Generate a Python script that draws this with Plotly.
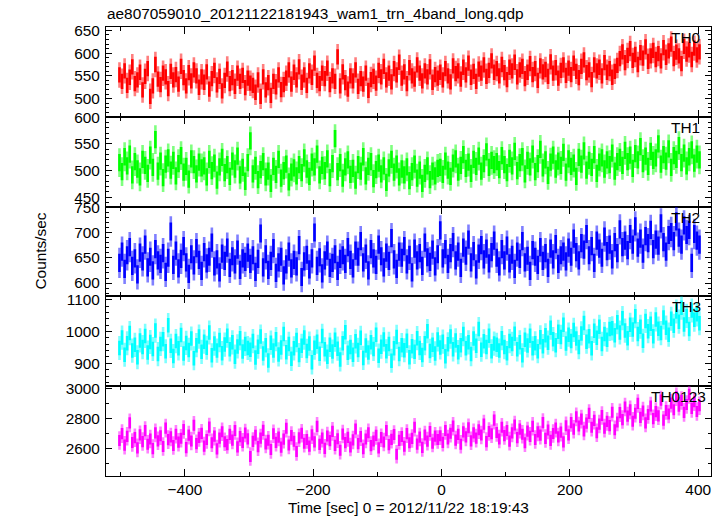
import numpy as np
import plotly.graph_objects as go

TITLE = "ae807059010_20121122181943_wam1_trn_4band_long.qdp"
X_TITLE = "Time [sec] 0 = 2012/11/22 18:19:43"
Y_TITLE = "Counts/sec"

# time binning of the light curve
T0 = -502
DT = 4

band_names = ["TH0", "TH1", "TH2", "TH3", "TH0123"]
band_colors = ["#ff0000", "#00ff00", "#0000ff", "#00ffff", "#ff00ff"]
band_err_colors = ["rgba(255,0,0,0.5)", "rgba(0,255,0,0.5)", "rgba(0,0,255,0.5)",
                   "rgba(0,255,255,0.5)", "rgba(255,0,255,0.5)"]
band_err = [28, 27, 30, 38, 62]

th0 = [552, 538, 561, 529, 547, 570, 533, 541, 558, 519, 549, 566, 505, 528, 575, 543, 531, 556, 548, 522,
       560, 541, 553, 532, 571, 546, 528, 557, 539, 563, 550, 525, 548,
       536, 559, 521, 544, 562, 530, 549, 517, 540, 565, 533, 546, 527, 556, 538, 551, 524, 545, 534,
       529, 514, 541, 505, 548, 519, 535, 507, 538, 526, 552, 520, 531,
       545, 563, 532, 558, 541, 570, 536, 552, 529, 561, 547, 578, 540, 533, 556, 544, 567, 531, 550, 538,
       592, 528, 559, 535, 521, 550, 539, 563, 527, 544, 532, 556, 518, 542, 549, 534,
       562, 548, 571, 541, 556, 537, 566, 552, 580, 545, 559, 533, 568, 550, 543, 574, 556, 539, 561, 548,
       570, 536, 553, 545,
       558, 541, 566, 550, 537, 572, 555, 561, 543, 569, 552, 578, 547, 560, 538, 565, 556, 574, 549, 562,
       583, 558,
       566, 550, 575, 557, 542, 569, 561, 580, 548, 563, 571, 544, 558, 577, 553, 566, 540, 572, 559, 564,
       549, 581, 556, 568, 545, 562, 574, 551,
       567, 553, 578, 560, 546, 571, 585, 557, 563, 542, 574, 561, 569, 550, 579, 558, 566, 547, 560, 573,
       588, 603, 579, 595, 610, 584, 597, 575, 601, 589, 614, 582, 594, 606, 586,
       599, 583, 612, 591, 605, 620, 588, 602, 594, 577, 615, 598, 607, 586, 611, 596, 603]

th1 = [515, 498, 526, 509, 531, 492, 517, 503, 488, 521, 510, 495, 529, 506, 558, 499, 518, 487, 512, 524,
       501, 519, 490, 513, 528, 497, 508, 484, 522, 511, 494, 516, 505,
       509, 488, 521, 500, 514, 482, 507, 525, 496, 511, 489, 518, 503, 527, 492, 506, 480, 515, 556,
       494, 510, 483, 502, 517, 488, 499, 476, 508, 493, 521, 486, 500, 512, 479, 497, 505, 490,
       511, 496, 524, 503, 489, 516, 507, 531, 492, 510, 500, 522, 487, 513, 560,
       498, 515, 486, 507, 520, 493, 504, 482, 511, 499, 526, 490, 508, 517, 485, 502, 514, 494, 509, 478,
       505, 521, 497, 512, 488, 503,
       492, 507, 481, 498, 512, 486, 501, 476, 495, 509, 483, 499, 490, 504,
       506, 493, 518, 501, 489, 514, 522, 497, 510, 530, 504, 516, 495, 521, 508, 527, 499, 513, 535, 506,
       519, 511,
       517, 502, 528, 511, 496, 523, 509, 536, 500, 515, 526, 494, 519, 507, 531, 498, 513, 540, 505, 520,
       491, 516, 529, 503, 518, 510, 534, 497, 522, 508, 514, 489, 525, 512, 537, 501, 519, 506, 530, 495,
       516, 524, 503, 520, 511, 533, 499, 517,
       525, 510, 538, 517, 529, 504, 532, 520, 545, 513, 527, 508, 536, 519, 524, 550, 512, 530, 518, 541,
       506, 528, 521, 547, 515, 533, 509, 526, 539, 514, 531, 520]

th2 = [640, 662, 628, 655, 671, 634, 649, 617, 660, 643, 676, 631, 652, 625, 667, 645, 638, 659, 622, 650,
       702, 636, 664, 629, 648, 673, 641, 618, 657, 635, 669, 646, 624, 661, 639, 652, 680, 633, 647, 621,
       658, 644, 670, 630, 653, 637, 666, 626, 649, 642, 660,
       638, 655, 622, 648, 698, 631, 657, 626, 644, 669, 620, 641, 652, 615, 637, 662, 629, 646, 633, 675,
       612, 643, 656, 627, 649, 700, 634, 651, 619, 645, 664, 630, 640, 657, 624, 648,
       655, 638, 671, 646, 629, 664, 652, 683, 641, 658, 625, 667, 649, 636, 676, 653, 631, 660, 644, 689,
       647, 628, 662, 650, 673, 637, 656, 621, 668, 645, 659, 634, 680, 651, 642, 666, 633, 657,
       704, 649, 667, 638, 659, 681, 645, 662, 630, 670, 654, 686, 641, 663, 627, 658, 675, 647, 668, 639,
       661, 684,
       650, 633, 667, 645, 674, 639, 656, 628, 662, 648, 683, 641, 654, 624, 665, 652, 636, 671, 644, 659,
       630, 668, 647, 677, 638, 655, 662, 643,
       670, 652, 688, 661, 645, 679, 666, 697, 655, 673, 640, 684, 668, 650, 692, 663, 676, 647, 681, 659,
       706, 671,
       684, 665, 697, 676, 712, 670, 688, 658, 693, 679, 705, 667, 686, 674, 718, 681, 662, 695,
       701, 683, 722, 690, 676, 714, 695, 705, 640, 697, 684, 676]

th3 = [948, 981, 927, 963, 995, 940, 958, 919, 972, 951, 986, 934, 967, 945, 1003, 929, 961, 976, 938, 1020,
       955, 923, 970, 947, 989, 931, 964, 942, 978, 916, 957, 984, 936, 968, 949, 997, 925, 962, 940, 973,
       932, 959, 987, 944, 966, 921, 953, 979, 937, 961, 948,
       943, 970, 918, 952, 984, 931, 957, 909, 965, 940, 976, 928, 950, 992, 935, 961, 914, 947, 973, 926,
       955, 981, 939, 962, 903, 949, 968, 930, 986, 944, 921, 958, 937, 974, 946, 912, 963, 998, 933, 951,
       927, 969, 942, 980, 917, 956, 934, 966, 945, 990, 924, 952, 975, 938, 961, 908, 947, 983, 929, 957,
       941, 971, 919, 954, 936, 979, 948, 926, 963, 1001, 939, 958, 931, 975, 950, 968, 922, 960, 984, 944,
       972, 935, 957, 992, 947, 966, 929, 978, 955, 1008, 943, 969, 951, 987, 938, 962,
       958, 940, 979, 951, 932, 970, 961, 993, 944, 966, 925, 974, 956, 987, 947, 963, 938, 982, 954,
       988, 965, 1012, 976, 957, 999, 983, 1021, 962, 990, 970, 1005, 978, 951, 994, 1027, 968, 985, 947, 1002,
       980, 1015, 961, 992, 974, 1008,
       1010, 988, 1029, 997, 1042, 1003, 979, 1021, 1006, 1048, 992, 1015, 971, 1033, 1001, 1024, 985, 1038,
       1009, 995, 1044, 1012, 990,
       1040, 1018, 1063, 1031, 1075, 1022, 1049, 1008, 1066, 1037, 1054, 1026]

th0123 = [2652, 2698, 2621, 2680, 2770, 2639, 2671, 2603, 2690, 2645, 2718, 2627, 2662, 2598, 2703, 2650,
          2684, 2612, 2735, 2658, 2676, 2619, 2694, 2641, 2667, 2726, 2605, 2688, 2649, 2754, 2631, 2673,
          2700, 2615, 2659, 2742, 2637, 2681, 2596, 2668, 2711, 2644, 2625, 2693, 2655, 2719, 2610, 2678,
          2640, 2702, 2663,
          2545, 2646, 2687, 2611, 2668, 2720, 2629, 2654, 2592, 2697, 2640, 2675, 2608, 2661, 2734, 2622,
          2685, 2647, 2579, 2670, 2701, 2634, 2659, 2615, 2690, 2643, 2747, 2626, 2668, 2600, 2682, 2651,
          2713, 2620, 2664, 2587, 2695, 2638, 2673, 2609, 2656, 2729, 2631, 2678, 2597, 2662, 2704, 2618,
          2649, 2686, 2603, 2671, 2642, 2718, 2625, 2660, 2692, 2560, 2653, 2679, 2614, 2698, 2637, 2666,
          2741, 2628, 2675, 2606, 2689, 2648, 2712, 2635, 2681, 2659,
          2684, 2640, 2719, 2662, 2701, 2748, 2655, 2693, 2627, 2710, 2676, 2737, 2650, 2703, 2668, 2724,
          2689, 2762, 2645, 2712, 2697, 2788,
          2706, 2662, 2741, 2685, 2719, 2648, 2703, 2756, 2671, 2728, 2694, 2637, 2715, 2680, 2747, 2659,
          2710, 2688, 2772, 2666, 2722, 2653, 2699, 2735, 2676, 2708, 2643, 2751, 2690,
          2772, 2728, 2810, 2749, 2795, 2716, 2768, 2833, 2741, 2787, 2704, 2762, 2819, 2735, 2780, 2752,
          2841, 2724, 2776,
          2838, 2792, 2876, 2815, 2857, 2781, 2834, 2900, 2807, 2849, 2770, 2826, 2883, 2798, 2845, 2817,
          2922, 2788, 2853, 2829,
          2902, 2858, 2945, 2881, 2920, 2840, 2893, 2960, 2867, 2911, 2846, 2885]

band_values = [th0, th1, th2, th3, th0123]

# axis settings (layout)
x_range = [-523, 420]
y_ranges = [[460, 657.5], [432.4, 601], [573.6, 751.2], [828, 1110.4], [2415, 3015]]
y_dticks = [50, 50, 50, 100, 200]
y_minor = [10, 10, 10, 20, 100]

FONT = "Liberation Sans, Arial, Helvetica, sans-serif"
FS = 15.4
W, H = 724, 516
ML, MR, MT, MB = 106, 13, 27, 40
n_pan = 5
BAR_PX = 2.6  # drawn width of each time-bin error bar
CORE_FRAC = 0.6
PLOT_H = H - MT - MB
label_right_px = [702, 702, 702, 703, 708]

fig = go.Figure()
for k in range(n_pan):
    vals = band_values[k]
    t = T0 + DT * np.arange(len(vals))
    sfx = "" if k == 0 else str(k + 1)
    err = np.full(len(vals), band_err[k], dtype=float)
    # full error bar (lighter)
    fig.add_trace(go.Scatter(
        x=t, y=vals, mode="markers",
        marker=dict(color=band_colors[k], size=1),
        error_y=dict(type="data", array=err, visible=True,
                     color=band_err_colors[k], thickness=BAR_PX, width=0),
        xaxis="x" + sfx, yaxis="y" + sfx, showlegend=False, hoverinfo="skip"))
    # saturated core of each bin
    fig.add_trace(go.Scatter(
        x=t, y=vals, mode="markers",
        marker=dict(color=band_colors[k], size=1),
        error_y=dict(type="data", array=err * CORE_FRAC, visible=True,
                     color=band_colors[k], thickness=BAR_PX, width=0),
        xaxis="x" + sfx, yaxis="y" + sfx, showlegend=False, hoverinfo="skip"))

layout = dict(width=W, height=H, margin=dict(l=ML, r=MR, t=MT, b=MB),
              paper_bgcolor="white", plot_bgcolor="white",
              font=dict(family=FONT, size=FS, color="black"),
              showlegend=False,
              title=dict(text=TITLE, x=107 / W, xanchor="left", xref="container",
                         y=1 - 14 / H, yanchor="middle", yref="container",
                         font=dict(family=FONT, size=FS, color="black")))

annotations = []
for k in range(n_pan):
    sfx = "" if k == 0 else str(k + 1)
    top = 1 - k / n_pan
    bot = 1 - (k + 1) / n_pan
    xa = dict(domain=[0, 1], anchor="y" + sfx, range=x_range, automargin=False,
              showline=True, linecolor="black", linewidth=1, mirror="ticks",
              ticks="inside", ticklen=7, tickcolor="black", tickwidth=1,
              tick0=0, dtick=200, showgrid=False, zeroline=False,
              minor=dict(dtick=100, tick0=0, ticks="inside", ticklen=4, tickcolor="black", showgrid=False),
              showticklabels=(k == n_pan - 1),
              tickfont=dict(family=FONT, size=FS, color="black"))
    if k > 0:
        xa["matches"] = "x"
    if k == n_pan - 1:
        xa["ticklabelstandoff"] = 0
    ya = dict(domain=[bot, top], anchor="x" + sfx, range=y_ranges[k], automargin=False,
              showline=True, linecolor="black", linewidth=1, mirror="ticks",
              ticks="inside", ticklen=6, tickcolor="black", tickwidth=1,
              tick0=0, dtick=y_dticks[k], showgrid=False, zeroline=False,
              minor=dict(dtick=y_minor[k], tick0=0, ticks="inside", ticklen=3, tickcolor="black", showgrid=False),
              ticklabelstandoff=2,
              tickfont=dict(family=FONT, size=FS, color="black"))
    layout["xaxis" + sfx] = xa
    layout["yaxis" + sfx] = ya
    annotations.append(dict(text=band_names[k], xref="x" + sfx + " domain", yref="y" + sfx + " domain",
                            x=(label_right_px[k] - ML) / (W - ML - MR), y=1 - 10.5 / (PLOT_H / n_pan),
                            xanchor="right", yanchor="middle", showarrow=False,
                            font=dict(family=FONT, size=FS, color="black")))

# axis titles
annotations.append(dict(text=X_TITLE, xref="paper", yref="paper",
                        x=0.5, y=-(507 - (H - MB)) / PLOT_H, xanchor="center", yanchor="middle",
                        showarrow=False, font=dict(family=FONT, size=FS, color="black")))
annotations.append(dict(text=Y_TITLE, xref="paper", yref="paper",
                        x=(40 - ML) / (W - ML - MR), y=0.5, xanchor="center", yanchor="middle",
                        textangle=-90, showarrow=False,
                        font=dict(family=FONT, size=FS, color="black")))
layout["annotations"] = annotations

fig.update_layout(**layout)
# remove the browser's default 8px body margin so the figure sits at the page corner
fig.write_html("out.html", config={"displayModeBar": False},
               post_script="document.body.style.margin='0';")
